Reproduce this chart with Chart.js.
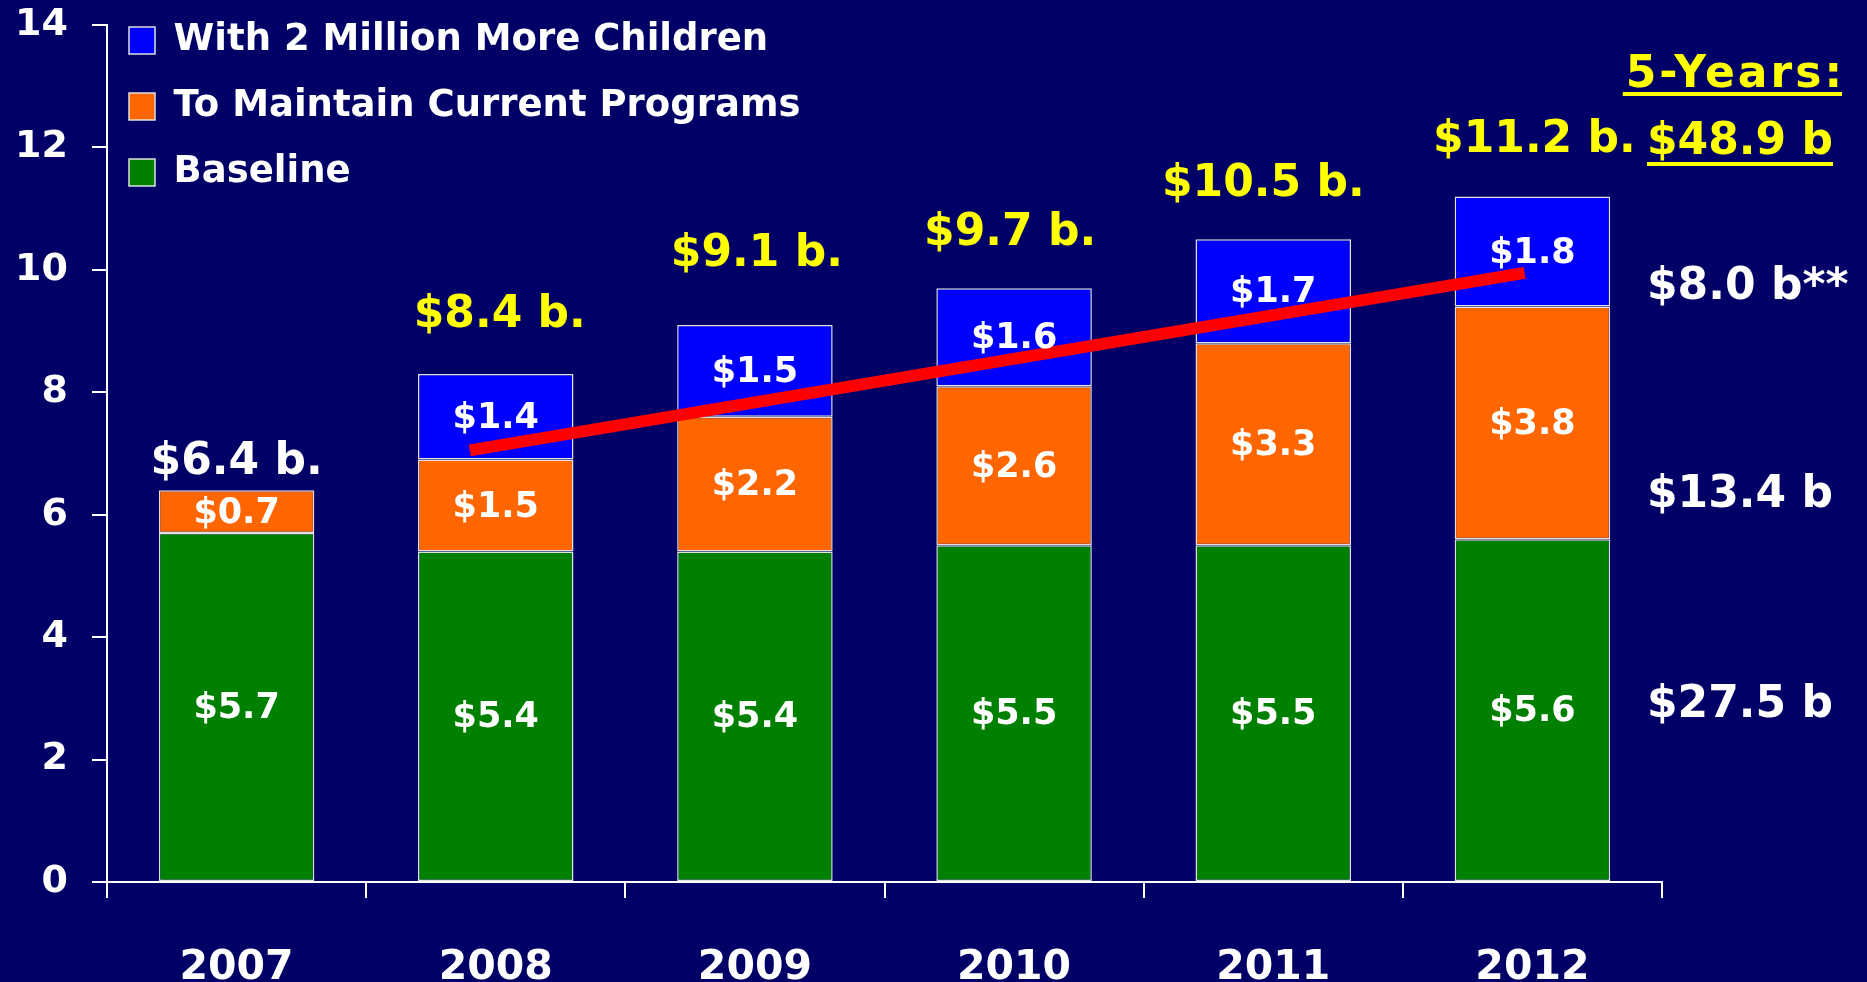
<!DOCTYPE html>
<html lang="en">
<head>
    <meta charset="UTF-8">
    <title>Child Care Funding Needs 2007-2012</title>
    <script src="https://cdn.jsdelivr.net/npm/chart.js"></script>
    <style>
        body { margin: 0; background: #000066; }
    </style>
</head>
<body>
    <canvas id="myChart" width="1867" height="982"></canvas>
    <script>
        // chart data
        const years = ['2007', '2008', '2009', '2010', '2011', '2012'];
        const baseline = [5.7, 5.4, 5.4, 5.5, 5.5, 5.6];
        const maintainPrograms = [0.7, 1.5, 2.2, 2.6, 3.3, 3.8];
        const moreChildren = [0, 1.4, 1.5, 1.6, 1.7, 1.8];
        const totalLabels = ['$6.4 b.', '$8.4 b.', '$9.1 b.', '$9.7 b.', '$10.5 b.', '$11.2 b.'];
        const trendX = [0.9, 4.97];
        const trendY = [7.05, 9.95];
        const yTicks = [0, 2, 4, 6, 8, 10, 12, 14];
        const fiveYearHeader = '5-Years:';
        const fiveYearTotal = '$48.9 b';
        const fiveYearBySeries = ['$8.0 b**', '$13.4 b', '$27.5 b'];

        const FONT = '"DejaVu Sans", sans-serif';

        // labels inside bars, totals above and the 5-year column on the right
        const textPlugin = {
            id: 'textPlugin',
            afterDatasetsDraw(chart) {
                const ctx = chart.ctx;
                const y = chart.scales.y;
                const area = chart.chartArea;
                ctx.save();
                ctx.textAlign = 'center';
                ctx.textBaseline = 'middle';
                ctx.fillStyle = '#ffffff';
                ctx.font = 'bold 35px ' + FONT;
                for (let d = 0; d < 3; d++) {
                    const meta = chart.getDatasetMeta(d);
                    meta.data.forEach((bar, i) => {
                        const v = chart.data.datasets[d].data[i];
                        if (!v) return;
                        ctx.fillText('$' + v.toFixed(1), bar.x, (bar.y + bar.base) / 2 + 2);
                    });
                }

                // totals over each stack
                const lift = [28, 58, 70, 55, 55, 56];
                const shiftX = [0, 4, 2, -4, -10, 2];
                const top = chart.getDatasetMeta(2).data;
                ctx.font = 'bold 44px ' + FONT;
                totalLabels.forEach((t, i) => {
                    ctx.fillStyle = i === 0 ? '#ffffff' : '#ffff00';
                    ctx.fillText(t, top[i].x + shiftX[i], top[i].y - lift[i]);
                });

                // 5-year sums
                const x0 = area.right - 15;
                ctx.textAlign = 'right';
                ctx.fillStyle = '#ffff00';
                ctx.letterSpacing = '3px';
                ctx.fillText(fiveYearHeader, x0 + 198, 76);
                let w = ctx.measureText(fiveYearHeader).width;
                ctx.fillRect(x0 + 195 - w, 92, w, 4);
                ctx.letterSpacing = '0px';
                ctx.textAlign = 'left';
                ctx.fillText(fiveYearTotal, x0, 143);
                w = ctx.measureText(fiveYearTotal).width;
                ctx.fillRect(x0, 162, w, 4);
                ctx.fillStyle = '#ffffff';
                const sumAt = [9.8, 6.4, 2.96];
                fiveYearBySeries.forEach((t, i) => {
                    ctx.fillText(t, x0, y.getPixelForValue(sumAt[i]) + 5);
                });
                ctx.restore();
            },
            afterLayout(chart) {
                // put the legend in the top left corner
                const lg = chart.legend;
                const h = lg.height, w = lg.width;
                lg.top = -7; lg.bottom = lg.top + h;
                lg.left = 100; lg.right = lg.left + w;
            }
        };

        const barStyle = {
            xAxisID: 'x',
            stack: 'all',
            grouped: false,
            borderColor: '#e0e0e0',
            borderWidth: 1.5,
            borderSkipped: false,
            barPercentage: 0.6,
            categoryPercentage: 1,
            order: 1
        };

        const ctx = document.getElementById('myChart').getContext('2d');
        const myChart = new Chart(ctx, {
            type: 'bar',
            data: {
                labels: years,
                datasets: [
                    Object.assign({ label: 'Baseline', data: baseline, backgroundColor: '#008000' }, barStyle),
                    Object.assign({ label: 'To Maintain Current Programs', data: maintainPrograms, backgroundColor: '#ff6600' }, barStyle),
                    Object.assign({ label: 'With 2 Million More Children', data: moreChildren, backgroundColor: '#0000ff' }, barStyle),
                    {
                        type: 'line',
                        label: 'trend',
                        xAxisID: 'xt',
                        data: trendX.map((x, i) => ({ x: x, y: trendY[i] })),
                        borderColor: '#ff0000',
                        borderWidth: 12,
                        pointRadius: 0,
                        order: 0
                    }
                ]
            },
            options: {
                responsive: false,
                animation: false,
                layout: {
                    padding: { top: 25, right: 205, left: 0, bottom: 0 }
                },
                scales: {
                    x: {
                        stacked: true,
                        grid: { offset: true, drawOnChartArea: false, tickLength: 16, color: '#ffffff', lineWidth: 2 },
                        border: { color: '#ffffff', width: 2 },
                        ticks: { color: '#ffffff', font: { family: FONT, size: 41, weight: 'bold' }, padding: 46 },
                        afterFit: (scale) => { scale.height = 100; }
                    },
                    xt: {
                        type: 'linear',
                        display: false,
                        offset: false,
                        min: -0.5,
                        max: 5.5
                    },
                    y: {
                        stacked: true,
                        min: 0,
                        max: 14,
                        afterBuildTicks: (scale) => { scale.ticks = yTicks.map(v => ({ value: v })); },
                        grid: { drawOnChartArea: false, tickLength: 15, color: '#ffffff', lineWidth: 2 },
                        border: { color: '#ffffff', width: 2 },
                        ticks: { color: '#ffffff', font: { family: FONT, size: 38, weight: 'bold' }, padding: 24 },
                        afterFit: (scale) => {
                            scale.width = 107;
                            scale.paddingTop = 0;
                            scale.paddingBottom = 0;
                        }
                    }
                },
                plugins: {
                    legend: {
                        position: 'chartArea',
                        align: 'start',
                        reverse: true,
                        labels: {
                            color: '#ffffff',
                            font: { family: FONT, size: 37, weight: 'bold' },
                            boxWidth: 26,
                            boxHeight: 27,
                            padding: 29,
                            filter: (item) => item.text !== 'trend'
                        }
                    },
                    tooltip: { enabled: false }
                }
            },
            plugins: [textPlugin]
        });
    </script>
</body>
</html>
